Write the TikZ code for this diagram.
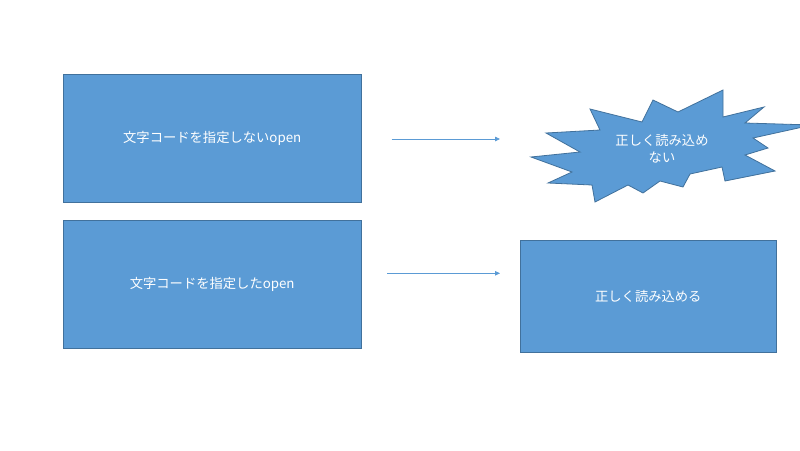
\documentclass[tikz,border=0pt]{standalone}
\usepackage{fontspec}
\newfontfamily\jpfont{Noto Sans CJK JP}
\usetikzlibrary{arrows.meta}
\definecolor{boxfill}{HTML}{5B9BD5}
\definecolor{boxline}{HTML}{41719C}
\definecolor{arrowc}{HTML}{5B9BD5}
\tikzset{
  bluebox/.style={draw=boxline, fill=boxfill, line width=0.8pt, inner sep=0pt,
    text=white, font=\jpfont\fontsize{13.3}{16}\selectfont, align=center},
  burstshape/.style={draw=boxline, fill=boxfill, line width=0.8pt, line join=miter},
  bursttext/.style={text=white, font=\jpfont\fontsize{13.3}{16.5}\selectfont, align=center, inner sep=0pt},
  conn/.style={draw=arrowc, line width=0.8pt, -{Triangle[length=5pt,width=4.5pt]}}
}
\begin{document}
\begin{tikzpicture}[x=1pt,y=-1pt]
\useasboundingbox (0,0) rectangle (800,450);
\fill[white] (0,0) rectangle (800,450);
% rectangles
\node[bluebox, minimum width=297.5pt, minimum height=128.7pt] (box1) at (212.2,138.3) {文字コードを指定しないopen};
\node[bluebox, minimum width=297.5pt, minimum height=128.7pt] (box2) at (212.2,284.4) {文字コードを指定したopen};
\node[bluebox, minimum width=256.7pt, minimum height=112.3pt] (box3) at (648.3,296.2) {正しく読み込める};
% explosion shape
\draw[burstshape] (590,109) -- (642,122) -- (653,100) -- (678,112) -- (723,90)
  -- (723,117) -- (764,107) -- (745,123) -- (812,125) -- (753,138)
  -- (768,148) -- (745,155) -- (775,171) -- (725,181) -- (722,167)
  -- (690,174) -- (683,187) -- (660,181) -- (643,193) -- (628,185)
  -- (595,202) -- (592,185) -- (548,183) -- (572,172) -- (531,157)
  -- (580,152) -- (546,133) -- (600,130) -- cycle;
\node[bursttext] (burst) at (662,148.5) {正しく読み込め\\ない};
% arrows
\coordinate (a1s) at (391.7,139);
\coordinate (a1e) at (500,139);
\coordinate (a2s) at (387.3,273.3);
\coordinate (a2e) at (500,273.3);
\draw[conn] (a1s) -- (a1e);
\draw[conn] (a2s) -- (a2e);
\end{tikzpicture}
\end{document}
